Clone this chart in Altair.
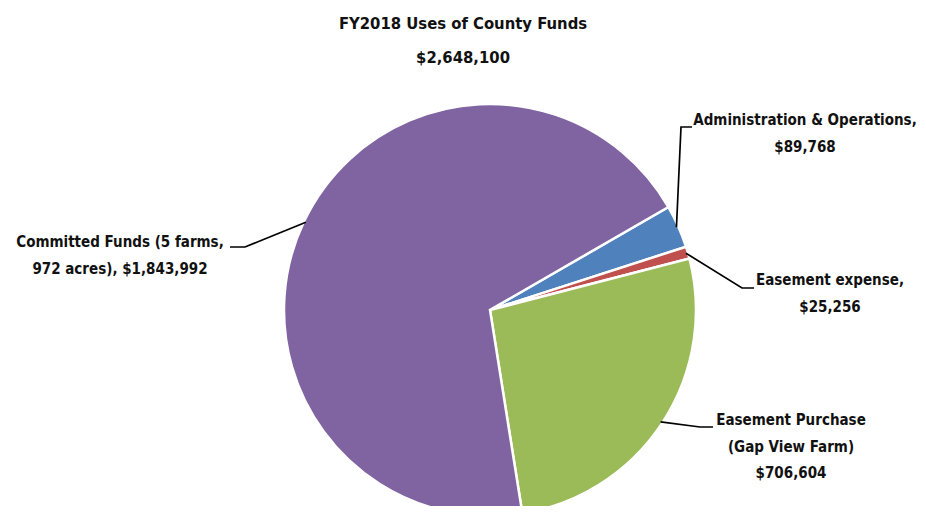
import math
import altair as alt
import pandas as pd

# ---- data ----
categories = [
    "Administration & Operations",
    "Easement expense",
    "Easement Purchase (Gap View Farm)",
    "Committed Funds (5 farms, 972 acres)",
]
values = [89768, 25256, 706604, 1843992]
label_texts = [
    "Administration & Operations,\n$89,768",
    "Easement expense,\n$25,256",
    "Easement Purchase\n(Gap View Farm)\n$706,604",
    "Committed Funds (5 farms,\n972 acres), $1,843,992",
]
colors = ["#4F81BD", "#C0504D", "#9BBB59", "#8064A2"]
title_lines = ["FY2018 Uses of County Funds", "$2,648,100"]

# ---- layout (page pixel coordinates) ----
W, OX = 910, 8
OY = 74
H = 506 - OY
CX, CY, R = 490, 310, 206
START_DEG = 60
LEAD_R = 204
label_pos = [(805, 120), (830, 280), (791, 420), (120, 242)]
leader_elbow = [
    [(681, 127), (692, 127)],
    [(742, 288), (754, 288)],
    [(700, 427), (713, 427)],
    [(245, 247), (230, 247)],
]

total = sum(values)
pie = pd.DataFrame({"cat": categories, "value": values, "ord": list(range(len(values)))})

# leader lines: start on the slice edge at its mid angle
rows = []
cum = 0
for i, v in enumerate(values):
    mid = math.radians(START_DEG + 360 * (cum + v / 2) / total)
    cum += v
    pts = [(CX + LEAD_R * math.sin(mid), CY - LEAD_R * math.cos(mid))] + leader_elbow[i]
    for j, (px, py) in enumerate(pts):
        rows.append({"cat": categories[i], "pt": j, "x": px, "y": py})
lead = pd.DataFrame(rows)

labels = pd.DataFrame({
    "cat": categories,
    "text": label_texts,
    "x": [p[0] for p in label_pos],
    "y": [p[1] for p in label_pos],
})

xs = alt.Scale(domain=[OX, OX + W], nice=False, zero=False)
ys = alt.Scale(domain=[OY, OY + H], nice=False, zero=False, reverse=True)
FONT = "DejaVu Sans Condensed, Roboto, sans-serif"

start = math.radians(START_DEG)
arcs = alt.Chart(pie).mark_arc(outerRadius=R, stroke="white", strokeWidth=2.5).encode(
    theta=alt.Theta("value:Q", stack=True, scale=alt.Scale(range=[start, start + 2 * math.pi])),
    order=alt.Order("ord:O"),
    color=alt.Color("cat:N", scale=alt.Scale(domain=categories, range=colors), legend=None),
    x=alt.value(CX - OX),
    y=alt.value(CY - OY),
)

lines = alt.Chart(lead).mark_line(color="black", strokeWidth=1.7).encode(
    x=alt.X("x:Q", scale=xs, axis=None),
    y=alt.Y("y:Q", scale=ys, axis=None),
    detail="cat:N",
    order="pt:O",
)

texts = alt.Chart(labels).mark_text(
    font=FONT, fontSize=15, fontWeight="bold", lineBreak="\n", lineHeight=26.5,
    align="center", baseline="middle", color="#111111",
).encode(
    x=alt.X("x:Q", scale=xs, axis=None),
    y=alt.Y("y:Q", scale=ys, axis=None),
    text="text:N",
)

chart = alt.layer(arcs, lines, texts).properties(
    width=W, height=H,
    padding={"top": OY - 8, "left": 0, "right": 0, "bottom": 0},
    autosize=alt.AutoSizeParams(type="none"),
    title=alt.TitleParams(title_lines, font=FONT, fontSize=16.5, fontWeight="bold",
                          lineHeight=34, anchor="middle", offset=8, color="#111111"),
).configure_view(stroke=None)

chart.save("out.html", embed_options={"renderer": "svg", "actions": False})
